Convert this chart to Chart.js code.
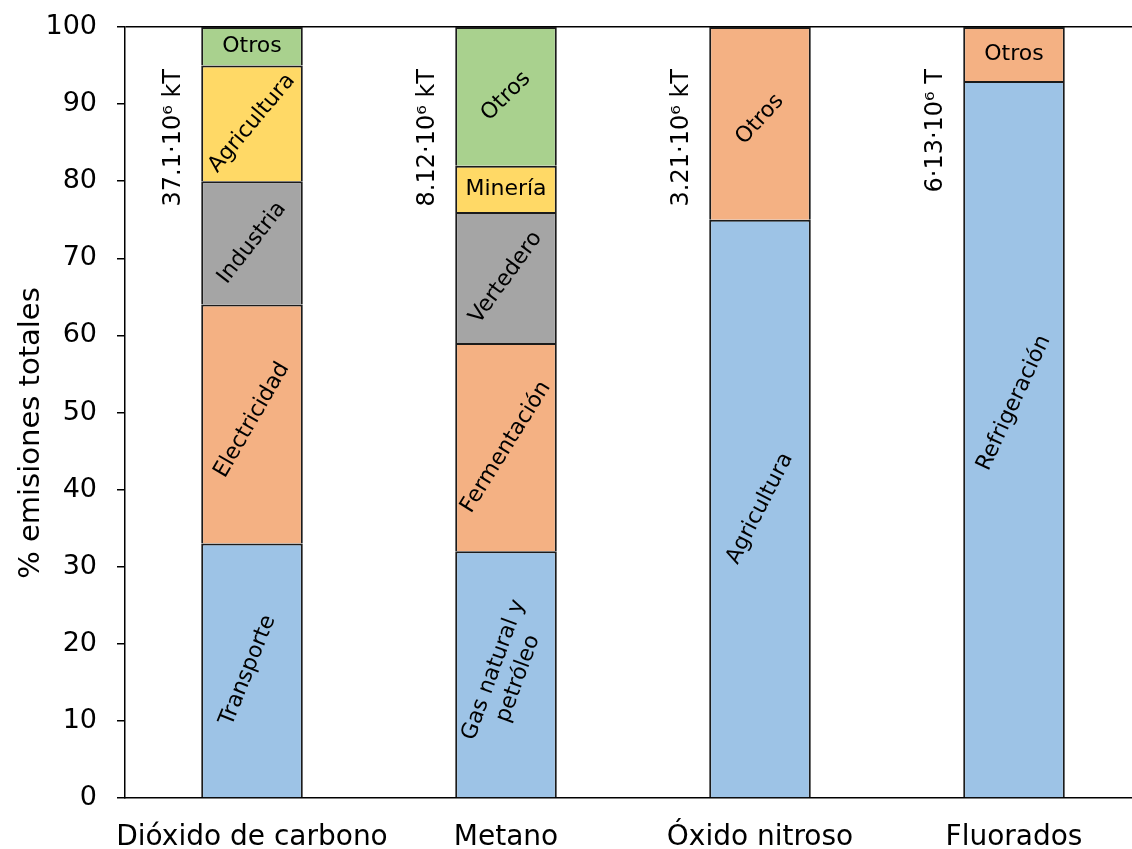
<!DOCTYPE html>
<html lang="es">
<head>
<meta charset="utf-8">
<title>Emisiones por gas y sector</title>
<script src="https://cdn.jsdelivr.net/npm/chart.js@4.4.1/dist/chart.umd.min.js"></script>
<style>
  html, body { margin: 0; padding: 0; background: #fff; overflow: hidden; }
  #wrap { position: relative; width: 1141px; height: 849px; }
</style>
</head>
<body>
<div id="wrap"><canvas id="chart"></canvas></div>
<script>
// Gases and the total emitted amount of each
const categories = ['Dióxido de carbono', 'Metano', 'Óxido nitroso', 'Fluorados'];
const totals = ['37.1·10⁶ kT', '8.12·10⁶ kT', '3.21·10⁶ kT', '6·13·10⁶ T'];

// Share of total emissions by sector (%), bottom to top of each bar
const co2Sectors = ['Transporte', 'Electricidad', 'Industria', 'Agricultura', 'Otros'];
const co2Values = [33, 31, 16, 15, 5];
const metanoSectors = [['Gas natural y', 'petróleo'], 'Fermentación', 'Vertedero', 'Minería', 'Otros'];
const metanoValues = [32, 27, 17, 6, 18];
const oxidoSectors = ['Agricultura', 'Otros'];
const oxidoValues = [75, 25];
const fluorSectors = ['Refrigeración', 'Otros'];
const fluorValues = [93, 7];

const yTicks = [0, 10, 20, 30, 40, 50, 60, 70, 80, 90, 100];

// Fill colour of each stack level (bottom to top)
const levelColors = ['#9DC3E6', '#F4B183', '#A5A5A5', '#FFD966', '#A9D18E'];

// Text angle (degrees, counter-clockwise) and offset of each segment label
const labelAngles = [
  [68, 60, 52, 50, 0],
  [70, 58, 54, 0, 45],
  [63, 48],
  [65, 0]
];
const labelNudgeY = [
  [0, -4, 0, 0, 0],
  [0, 0, 0, 0, 0],
  [0, -4],
  [-36, 0]
];
const labelNudgeX = [
  [-4, 0, 0, 0, 0],
  [0, 0, 0, 0, 0],
  [0, 0],
  [0, 0]
];

const FONT = '"DejaVu Sans", Verdana, sans-serif';

const sectorTable = [co2Sectors, metanoSectors, oxidoSectors, fluorSectors];
const valueTable = [co2Values, metanoValues, oxidoValues, fluorValues];
const levels = Math.max(...valueTable.map(v => v.length));

const datasets = [];
for (let l = 0; l < levels; l++) {
  datasets.push({
    label: 'Nivel ' + (l + 1),
    data: valueTable.map(v => (v[l] !== undefined ? v[l] : null)),
    sectors: sectorTable.map(s => (s[l] !== undefined ? s[l] : null)),
    backgroundColor: levelColors[l],
    borderColor: '#1b1b1b',
    borderWidth: 2,
    borderSkipped: 'start',
    categoryPercentage: 1.0,
    barPercentage: 0.4
  });
}

// Sector names inside each segment, gas totals beside each bar, y-axis title
const labelPlugin = {
  id: 'segmentLabels',
  afterDatasetsDraw(chart) {
    const ctx = chart.ctx;
    ctx.save();
    ctx.fillStyle = '#000';
    chart.data.datasets.forEach((ds, di) => {
      const meta = chart.getDatasetMeta(di);
      meta.data.forEach((bar, ci) => {
        const name = ds.sectors[ci];
        if (name === null || ds.data[ci] === null) return;
        const cx = bar.x + labelNudgeX[ci][di];
        const cy = (bar.y + bar.base) / 2 + labelNudgeY[ci][di];
        const ang = labelAngles[ci][di] * Math.PI / 180;
        const lines = Array.isArray(name) ? name : [name];
        ctx.save();
        ctx.translate(cx, cy);
        ctx.rotate(-ang);
        ctx.font = '22px ' + FONT;
        ctx.textAlign = 'center';
        ctx.textBaseline = 'middle';
        const lh = 26;
        lines.forEach((t, i) => {
          ctx.fillText(t, 0, (i - (lines.length - 1) / 2) * lh);
        });
        ctx.restore();
      });
    });

    // totals, vertical, to the left of each bar
    const first = chart.getDatasetMeta(0);
    first.data.forEach((bar, ci) => {
      const left = bar.x - bar.width / 2;
      ctx.save();
      ctx.translate(left - 27, 69);
      ctx.rotate(-Math.PI / 2);
      ctx.font = '24px ' + FONT;
      ctx.textAlign = 'right';
      ctx.textBaseline = 'middle';
      ctx.fillText(totals[ci], 0, 0);
      ctx.restore();
    });

    // y-axis title
    ctx.save();
    ctx.translate(31, 433);
    ctx.rotate(-Math.PI / 2);
    ctx.font = '29px ' + FONT;
    ctx.textAlign = 'center';
    ctx.textBaseline = 'middle';
    ctx.fillText('% emisiones totales', 0, 0);
    ctx.restore();
    ctx.restore();
  }
};

new Chart(document.getElementById('chart'), {
  type: 'bar',
  data: { labels: categories, datasets },
  plugins: [labelPlugin],
  options: {
    responsive: true,
    maintainAspectRatio: false,
    animation: false,
    devicePixelRatio: 1,
    layout: { padding: { top: 27, left: 0, right: 0, bottom: 0 } },
    plugins: {
      legend: { display: false },
      tooltip: { enabled: false },
      title: { display: false }
    },
    scales: {
      x: {
        stacked: true,
        offset: true,
        grid: { display: false, drawTicks: false },
        border: { display: true, color: '#000', width: 1.5 },
        ticks: {
          color: '#000',
          font: { family: FONT, size: 28 },
          padding: 23,
          maxRotation: 0,
          autoSkip: false
        },
        afterFit(scale) { scale.height = 51; }
      },
      y: {
        stacked: true,
        min: 0,
        max: 100,
        afterBuildTicks(scale) { scale.ticks = yTicks.map(v => ({ value: v })); },
        grid: {
          drawOnChartArea: true,
          color: c => (c.tick && c.tick.value === 100 ? '#000' : 'rgba(0,0,0,0)'),
          lineWidth: 1.5,
          tickLength: 8,
          tickColor: '#000',
          tickWidth: 1.5
        },
        border: { display: true, color: '#000', width: 1.5 },
        ticks: {
          color: '#000',
          font: { family: FONT, size: 27 },
          padding: 20
        },
        afterFit(scale) {
          scale.width = 125;
          scale.paddingTop = 0;
          scale.paddingBottom = 0;
        }
      }
    }
  }
});
</script>
</body>
</html>
